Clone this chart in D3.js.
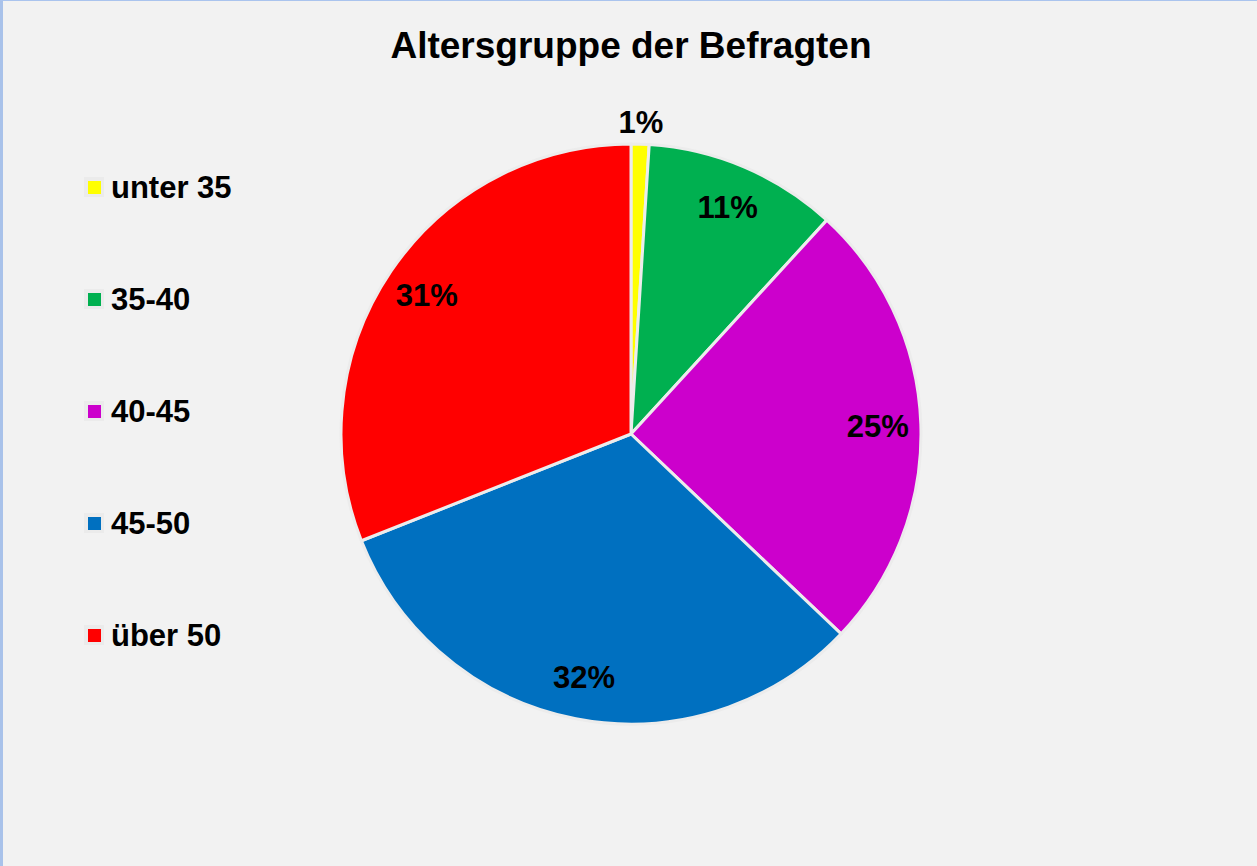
<!DOCTYPE html>
<html lang="de">
<head>
<meta charset="UTF-8">
<title>Altersgruppe der Befragten</title>
<script src="https://cdn.jsdelivr.net/npm/d3@7"></script>
<style>
  html, body { margin: 0; padding: 0; background: #f2f2f2; }
  svg { display: block; font-family: "Liberation Sans", Arial, sans-serif; }
</style>
</head>
<body>
<div id="grafica"></div>
<script>
// Daten
const gruppen = ['unter 35', '35-40', '40-45', '45-50', 'über 50']
const anteile = [1.0, 10.8, 25.3, 31.9, 31.0]
const labels = ['1%', '11%', '25%', '32%', '31%']
const farben = ['#ffff00', '#00b050', '#cc00cc', '#0070c0', '#ff0000']

const ancho_total = 1257, alto_total = 866
const cx = 631, cy = 434, radio = 290

const svg = d3.select('#grafica')
  .append('svg')
  .attr('width', ancho_total)
  .attr('height', alto_total)

svg.append('rect')
  .attr('width', ancho_total).attr('height', alto_total)
  .attr('fill', '#f2f2f2')

// Rahmen links / oben
svg.append('rect').attr('x', 0).attr('y', 0).attr('width', 3).attr('height', alto_total).attr('fill', '#a9c2ea')
svg.append('rect').attr('x', 0).attr('y', 0).attr('width', ancho_total).attr('height', 1).attr('fill', '#aac4ee')

svg.append('text')
  .attr('x', cx).attr('y', 58)
  .attr('text-anchor', 'middle')
  .attr('font-size', 37).attr('font-weight', 'bold')
  .text('Altersgruppe der Befragten')

const color = d3.scaleOrdinal().domain(gruppen).range(farben)

const pie = d3.pie().sort(null).value(d => d.v)
const datos = gruppen.map((g, i) => ({ g: g, v: anteile[i], l: labels[i] }))
const arcs = pie(datos)

const arco = d3.arc().innerRadius(0).outerRadius(radio)

const g = svg.append('g').attr('transform', 'translate(' + cx + ',' + cy + ')')

g.selectAll('path')
  .data(arcs)
  .enter().append('path')
  .attr('d', arco)
  .attr('fill', d => color(d.data.g))
  .attr('stroke', '#ececec')
  .attr('stroke-width', 3)
  .attr('stroke-linejoin', 'round')

// Beschriftung
const arcoLabel = d3.arc().innerRadius(247).outerRadius(247)
const arcoFuera = d3.arc().innerRadius(312).outerRadius(312)

g.selectAll('text.lbl')
  .data(arcs)
  .enter().append('text')
  .attr('class', 'lbl')
  .attr('transform', d => 'translate(' + (d.data.v < 3 ? arcoFuera : arcoLabel).centroid(d) + ')')
  .attr('text-anchor', 'middle')
  .attr('dy', '0.36em')
  .attr('font-size', 31).attr('font-weight', 'bold')
  .text(d => d.data.l)

// Legende
const y = d3.scalePoint().domain(gruppen).range([187, 635])

const leg = svg.append('g')
  .selectAll('g')
  .data(gruppen)
  .enter().append('g')
  .attr('transform', d => 'translate(84,' + y(d) + ')')

leg.append('rect')
  .attr('x', 0).attr('y', -10).attr('width', 20).attr('height', 20)
  .attr('fill', '#ebebeb')
leg.append('rect')
  .attr('x', 4).attr('y', -6).attr('width', 13).attr('height', 13)
  .attr('fill', d => color(d))
leg.append('text')
  .attr('x', 27).attr('dy', '0.36em')
  .attr('font-size', 31).attr('font-weight', 'bold')
  .text(d => d)
</script>
</body>
</html>
